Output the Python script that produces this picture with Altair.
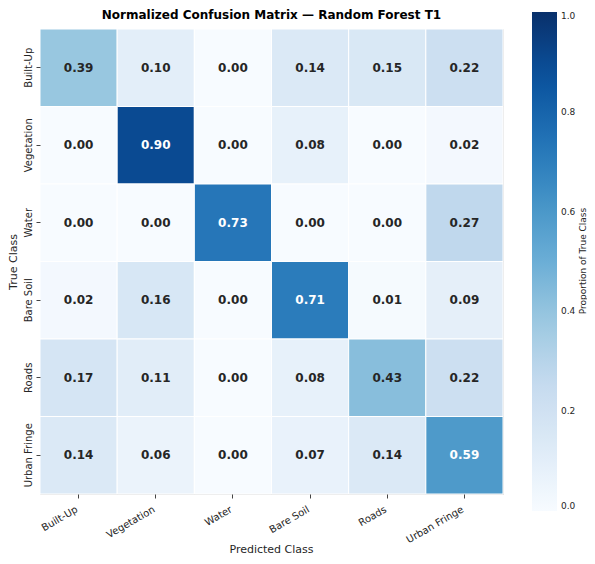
import altair as alt
import pandas as pd

classes = ["Built-Up", "Vegetation", "Water", "Bare Soil", "Roads", "Urban Fringe"]
values = [
    [0.39, 0.10, 0.00, 0.14, 0.15, 0.22],
    [0.00, 0.90, 0.00, 0.08, 0.00, 0.02],
    [0.00, 0.00, 0.73, 0.00, 0.00, 0.27],
    [0.02, 0.16, 0.00, 0.71, 0.01, 0.09],
    [0.17, 0.11, 0.00, 0.08, 0.43, 0.22],
    [0.14, 0.06, 0.00, 0.07, 0.14, 0.59],
]
blues = ["#f7fbff", "#deebf7", "#c6dbef", "#9ecae1", "#6baed6",
         "#4292c6", "#2171b5", "#08519c", "#08306b"]
blues_domain = [i / 8 for i in range(9)]
legend_ticks = [0.0, 0.2, 0.4, 0.6, 0.8, 1.0]

rows = []
for i, t in enumerate(classes):
    for j, p in enumerate(classes):
        rows.append({"True Class": t, "Predicted Class": p, "v": values[i][j]})
df = pd.DataFrame(rows)

W, H = 463, 465
font = "DejaVu Sans"

base = alt.Chart(df).encode(
    x=alt.X("Predicted Class:N", sort=classes,
            axis=alt.Axis(labelAngle=-30, labelAlign="right", labelBaseline="top",
                          labelFontSize=10, labelColor="#262626", title=None,
                          tickColor="#444", tickSize=4, domain=False,
                          labelPadding=6, labelOffset=-4)),
    y=alt.Y("True Class:N", sort=classes,
            axis=alt.Axis(labelAngle=-90, labelAlign="center", labelBaseline="bottom",
                          labelFontSize=10, labelColor="#262626", titleFontSize=11,
                          titleFontWeight="normal", titleColor="#262626", titlePadding=5,
                          tickColor="#444", tickSize=4, domain=False, labelPadding=3)),
)

rect = base.mark_rect(stroke="white", strokeWidth=1).encode(
    color=alt.Color("v:Q",
                    scale=alt.Scale(domain=blues_domain, range=blues, clamp=True),
                    legend=alt.Legend(orient="none", legendX=492, legendY=-17,
                                      direction="vertical", gradientLength=499,
                                      gradientThickness=25, title=None,
                                      values=legend_ticks, format=".1f",
                                      labelFontSize=9, labelColor="#262626",
                                      labelOffset=4, gradientStrokeWidth=0))
)

text = base.mark_text(fontWeight="bold", fontSize=12, font=font).encode(
    text=alt.Text("v:Q", format=".2f"),
    color=alt.condition(alt.datum.v > 0.5, alt.value("white"), alt.value("#262626")),
)

title_txt = alt.Chart(pd.DataFrame({"t": ["Normalized Confusion Matrix — Random Forest T1"]})).mark_text(
    fontSize=12, fontWeight="bold", font=font, color="black", baseline="middle"
).encode(text="t:N", x=alt.value(W / 2), y=alt.value(-14))

xtitle = alt.Chart(pd.DataFrame({"t": ["Predicted Class"]})).mark_text(
    fontSize=11, font=font, color="#262626", baseline="middle"
).encode(text="t:N", x=alt.value(W / 2), y=alt.value(521))

cbar_title = alt.Chart(pd.DataFrame({"t": ["Proportion of True Class"]})).mark_text(
    angle=270, fontSize=9, font=font, color="#262626", baseline="middle"
).encode(text="t:N", x=alt.value(543), y=alt.value(232))

chart = alt.layer(rect, text, title_txt, xtitle, cbar_title).properties(
    width=W, height=H,
    autosize=alt.AutoSizeParams(type="none"),
    padding={"left": 32, "top": 21, "right": 84, "bottom": 62},
).configure_view(stroke=None).configure(font=font).configure_axis(grid=False)

chart.save("out.html", embed_options={"renderer": "svg", "actions": False})
